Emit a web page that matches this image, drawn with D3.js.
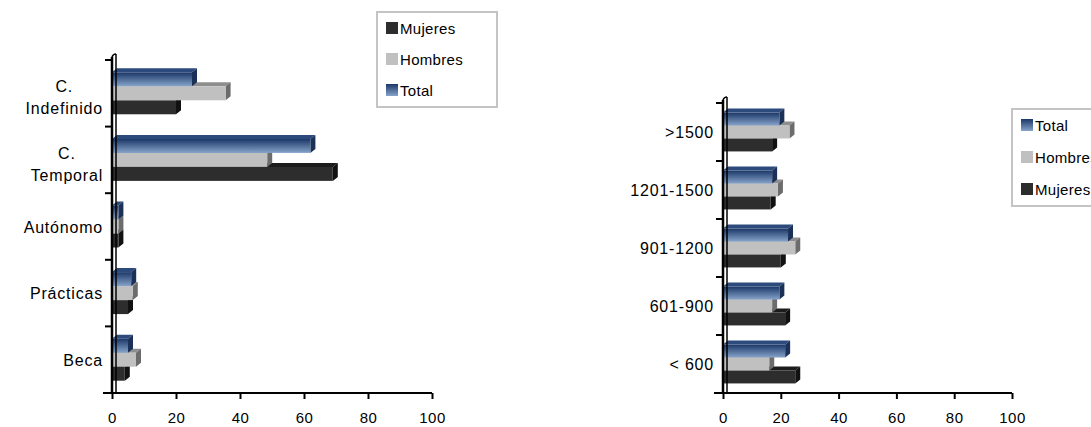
<!DOCTYPE html>
<html>
<head>
<meta charset="utf-8">
<script src="https://cdn.jsdelivr.net/npm/d3@7"></script>
<style>
  body { margin: 0; background: #fff; }
  svg text { font-family: "Liberation Sans", Arial, sans-serif; font-size: 16px; letter-spacing: 0.8px; fill: #000; }
  svg .item text { font-size: 15px; letter-spacing: 0.3px; }
</style>
</head>
<body>
<script>
// --- data (percentages) ---
var contratoCats = ["C. Indefinido", "C. Temporal", "Autónomo", "Prácticas", "Beca"];
var contratoTotal = [25, 62, 2, 6, 5];
var contratoHombres = [35.5, 48.5, 2, 6.5, 7.5];
var contratoMujeres = [20, 69, 2, 5, 4];

var salarioCats = [">1500", "1201-1500", "901-1200", "601-900", "< 600"];
var salarioTotal = [19.5, 17, 22.5, 19.5, 21.5];
var salarioHombres = [23, 19, 25, 17, 16];
var salarioMujeres = [17, 16.5, 20, 21.5, 25];

var xTicks = [0, 20, 40, 60, 80, 100];
var seriesNames = ["Total", "Hombres", "Mujeres"];

var width = 1091, height = 427;
var svg = d3.select("body").append("svg")
    .attr("width", width)
    .attr("height", height);

// gradient for the Total bars
var defs = svg.append("defs");
var grad = defs.append("linearGradient")
    .attr("id", "totalGrad")
    .attr("x1", 0).attr("y1", 0).attr("x2", 0).attr("y2", 1);
grad.append("stop").attr("offset", "0%").attr("stop-color", "#1b3768");
grad.append("stop").attr("offset", "100%").attr("stop-color", "#86a3c9");

// colours for front / top / side faces
var faces = {
    Total:   { front: "url(#totalGrad)", top: "#2c4b7c", side: "#1c3157" },
    Hombres: { front: "#c0c0c0", top: "#8e8e8e", side: "#6c6c6c" },
    Mujeres: { front: "#2d2d2d", top: "#1c1c1c", side: "#111111" }
};

var dx = 5, dy = 4; // 3d depth of the bars

function makechart(opt) {
    var g = svg.append("g");

    var x = d3.scaleLinear().domain([0, 100]).range([opt.x0, opt.x1]);
    var y = d3.scaleBand().domain(opt.cats).range([opt.y0, opt.y1])
        .paddingInner(opt.pad).paddingOuter(opt.pad / 2);
    var ys = d3.scaleBand().domain(seriesNames).range([0, y.bandwidth()]);

    // bars: draw from bottom series up so upper bars cover lower top faces
    var rows = [];
    opt.cats.forEach(function (c, i) {
        rows.push({ cat: c, s: "Mujeres", v: opt.mujeres[i] });
        rows.push({ cat: c, s: "Hombres", v: opt.hombres[i] });
        rows.push({ cat: c, s: "Total", v: opt.total[i] });
    });

    var bar = g.append("g").selectAll("g")
        .data(rows)
        .enter()
        .append("g");

    bar.append("path")
        .attr("d", function (d) {
            var x0 = x(0), x1 = x(d.v), yt = y(d.cat) + ys(d.s);
            return "M" + x0 + "," + yt + "L" + (x0 + dx) + "," + (yt - dy) +
                "L" + (x1 + dx) + "," + (yt - dy) + "L" + x1 + "," + yt + "Z";
        })
        .style("fill", function (d) { return faces[d.s].top; });

    bar.append("path")
        .attr("d", function (d) {
            var x1 = x(d.v), yt = y(d.cat) + ys(d.s), h = ys.bandwidth();
            return "M" + x1 + "," + yt + "L" + (x1 + dx) + "," + (yt - dy) +
                "L" + (x1 + dx) + "," + (yt + h - dy) + "L" + x1 + "," + (yt + h) + "Z";
        })
        .style("fill", function (d) { return faces[d.s].side; });

    bar.append("rect")
        .attr("x", x(0))
        .attr("y", function (d) { return y(d.cat) + ys(d.s); })
        .attr("width", function (d) { return x(d.v) - x(0); })
        .attr("height", ys.bandwidth())
        .style("fill", function (d) { return faces[d.s].front; });

    // the wall: double vertical line
    g.append("line")
        .attr("x1", x(0)).attr("x2", x(0))
        .attr("y1", opt.y0 - 3).attr("y2", opt.y1)
        .style("stroke", "#000").style("stroke-width", 2.5);
    g.append("line")
        .attr("x1", x(0) + 4).attr("x2", x(0) + 4)
        .attr("y1", opt.y0 - 6).attr("y2", opt.y1)
        .style("stroke", "#000").style("stroke-width", 1.5);
    g.append("path")
        .attr("d", "M" + x(0) + "," + (opt.y0 - 3) + "Q" + (x(0) + 1) + "," + (opt.y0 - 6) + " " + (x(0) + 4) + "," + (opt.y0 - 6))
        .style("fill", "none").style("stroke", "#000").style("stroke-width", 1.5);

    // category ticks at band borders
    var borders = d3.range(opt.cats.length + 1).map(function (i) { return opt.y0 + i * y.step(); });
    g.append("g").selectAll("line")
        .data(borders)
        .enter()
        .append("line")
        .attr("x1", x(0) - 7).attr("x2", x(0))
        .attr("y1", function (d) { return d; })
        .attr("y2", function (d) { return d; })
        .style("stroke", "#000").style("stroke-width", 2);

    // category labels
    var lab = g.append("g").selectAll("text")
        .data(opt.cats)
        .enter()
        .append("text")
        .attr("text-anchor", "middle");
    lab.each(function (c) {
        var t = d3.select(this);
        var lines = c.indexOf("C. ") == 0 ? ["C.", c.slice(3)] : [c];
        lines.forEach(function (l) {
            t.append("tspan").text(l);
        });
        var w = d3.max(t.selectAll("tspan").nodes(), function (n) { return n.getComputedTextLength(); });
        var cx = opt.labelRight - w / 2;
        var cy = y(c) + y.bandwidth() / 2 + (lines.length > 1 ? 4 : 0);
        t.selectAll("tspan")
            .attr("x", cx)
            .attr("y", function (d, i) { return cy + 6 + (i - (lines.length - 1) / 2) * 22; });
    });

    // x axis
    var xAxis = d3.axisBottom(x).tickValues(xTicks).tickSize(6).tickSizeOuter(0).tickPadding(13);
    var ax = g.append("g")
        .attr("transform", "translate(0," + opt.y1 + ")")
        .call(xAxis);
    ax.select(".domain").remove();
    ax.append("line")
        .attr("x1", x(0) - 9).attr("x2", x(100))
        .style("stroke", "#000").style("stroke-width", 2);
    ax.selectAll(".tick line").style("stroke", "#000").style("stroke-width", 2);
    ax.selectAll(".tick text")
        .style("font-family", "Liberation Sans, Arial, sans-serif")
        .style("font-size", "15px")
        .style("letter-spacing", "0.5px")
        .style("fill", "#000");

    // legend
    var leg = g.append("g");
    leg.append("rect")
        .attr("x", opt.leg.x).attr("y", opt.leg.y)
        .attr("width", opt.leg.w).attr("height", opt.leg.h)
        .style("fill", "#fff").style("stroke", "#c4c4c4").style("stroke-width", 2);
    var item = leg.selectAll("g.item")
        .data(opt.leg.order)
        .enter()
        .append("g")
        .attr("class", "item")
        .attr("transform", function (d, i) {
            return "translate(" + (opt.leg.x + 9) + "," + (opt.leg.y + opt.leg.first + i * opt.leg.gap) + ")";
        });
    item.append("rect")
        .attr("x", 0).attr("y", -6).attr("width", 12).attr("height", 12)
        .style("fill", function (d) { return faces[d].front; });
    item.append("text")
        .attr("x", 14).attr("y", 5.5)
        .text(function (d) { return d; });
}

makechart({
    cats: contratoCats,
    total: contratoTotal, hombres: contratoHombres, mujeres: contratoMujeres,
    x0: 112, x1: 432, y0: 60, y1: 393, pad: 0.37,
    labelRight: 103,
    leg: { x: 377, y: 12, w: 120, h: 95, first: 16, gap: 31, order: ["Mujeres", "Hombres", "Total"] }
});

makechart({
    cats: salarioCats,
    total: salarioTotal, hombres: salarioHombres, mujeres: salarioMujeres,
    x0: 723, x1: 1012, y0: 103, y1: 393, pad: 0.33,
    labelRight: 714,
    leg: { x: 1012, y: 109, w: 100, h: 97, first: 16, gap: 32, order: ["Total", "Hombres", "Mujeres"] }
});
</script>
</body>
</html>
